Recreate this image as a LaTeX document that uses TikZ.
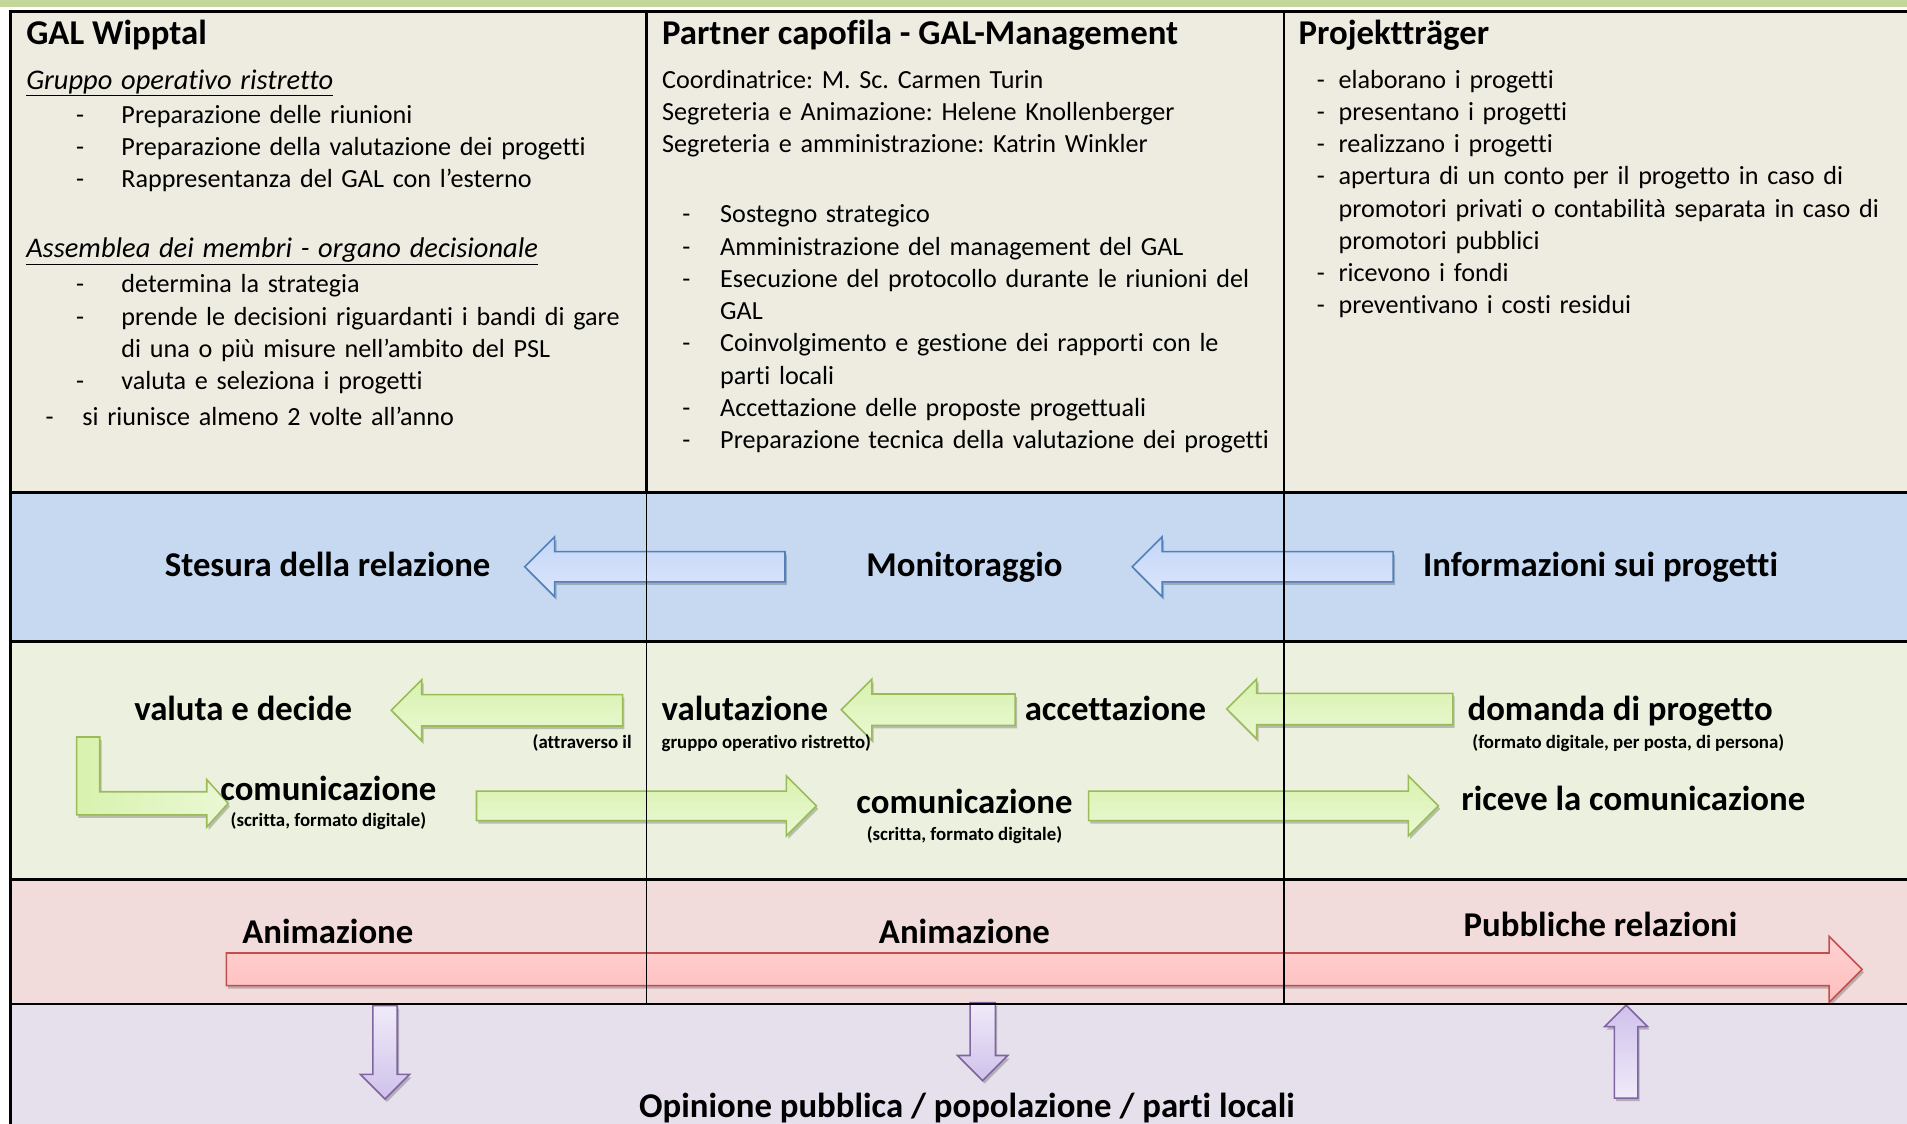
\documentclass[tikz,border=0pt]{standalone}
\usepackage{fontspec}
\setmainfont{Carlito}[Ligatures=NoCommon]
\usetikzlibrary{shapes.arrows,shadows}

\definecolor{stripgreen}{HTML}{C4D79B}
\definecolor{rowbeige}{HTML}{EEECE1}
\definecolor{rowblue}{HTML}{C6D9F1}
\definecolor{rowgreen}{HTML}{EBF1DE}
\definecolor{rowpink}{HTML}{F2DCDB}
\definecolor{rowlilac}{HTML}{E5E0EC}
\definecolor{blueline}{HTML}{4F81BD}
\definecolor{bluetop}{HTML}{C4D6F6}
\definecolor{bluebot}{HTML}{DCE6FE}
\definecolor{greenline}{HTML}{9BBB59}
\definecolor{greentop}{HTML}{D8F2AE}
\definecolor{greenbot}{HTML}{EAF8D4}
\definecolor{redline}{HTML}{C0504D}
\definecolor{redtop}{HTML}{FFD2D2}
\definecolor{redbot}{HTML}{FFBDBD}
\definecolor{lilacline}{HTML}{8064A2}
\definecolor{lilacdark}{HTML}{CFC1EB}
\definecolor{lilaclight}{HTML}{F0EBF9}

%% dash in front of a list line: indent, then box for the dash
\newcommand{\itemdash}[2]{\hspace*{#1}\makebox[#2][l]{-}}
%% underlined italic sub heading, a bit larger than the list
\newcommand{\subhead}[1]{{\fontsize{23.4}{26.5}\selectfont\underline{\textit{#1}}}}

\begin{document}
\begin{tikzpicture}[x=1pt,y=-1pt]
  \tikzset{
    head/.style={font=\fontsize{28.6}{30}\selectfont\bfseries, inner sep=0pt},
    body/.style={font=\fontsize{21.5}{26.5}\selectfont\frenchspacing,
      inner sep=0pt, text width=520pt, align=left},
    lab/.style={font=\fontsize{28.6}{30}\selectfont\bfseries, inner sep=0pt},
    smalllab/.style={font=\fontsize{15.5}{17}\selectfont\bfseries, inner sep=0pt},
    %% length, shaft width, head width (horizontal arrows)
    barrow/.style n args={3}{single arrow, inner xsep=0pt, inner ysep={#2/2},
      minimum width=1pt, minimum height=#1,
      single arrow head extend={(#3-#2)/2}, line width=1.3pt},
    %% the same for arrows turned up or down
    varrow/.style n args={3}{single arrow, inner ysep=0pt, inner xsep={#2/2},
      minimum width=1pt, minimum height=#1,
      single arrow head extend={(#3-#2)/2}, line width=1.3pt},
    softshadow/.style={drop shadow={shadow xshift=1.5pt, shadow yshift=-2.5pt,
      opacity=0.22, fill=black}},
    bluearr/.style={draw=blueline, top color=bluetop, bottom color=bluebot, softshadow},
    greenarr/.style={draw=greenline, top color=greentop, bottom color=greenbot, softshadow},
    redarr/.style={draw=redline, top color=redtop, bottom color=redbot, softshadow},
    lilacdown/.style={draw=lilacline, top color=lilaclight, bottom color=lilacdark, softshadow},
    lilacup/.style={draw=lilacline, top color=lilacdark, bottom color=lilaclight, softshadow},
    grid/.style={line width=2.4pt}
  }
  \useasboundingbox (0,0) rectangle (1568,924);

  %% Background rows
  \fill[stripgreen] (0,0) rectangle (1568,5.5);
  \fill[rowbeige] (8.5,9.6) rectangle (1568,405);
  \fill[rowblue]  (8.5,405) rectangle (1568,527.6);
  \fill[rowgreen] (8.5,527.6) rectangle (1568,723);
  \fill[rowpink]  (8.5,723) rectangle (1568,825.5);
  \fill[rowlilac] (8.5,825.5) rectangle (1568,924);

  %% Block arrows
  \node[barrow={214}{23.5}{48}, bluearr, shape border rotate=180, anchor=tip]
    (arrRel) at (430.5,466) {};
  \node[barrow={214.6}{23.5}{48}, bluearr, shape border rotate=180, anchor=tip]
    (arrMon) at (930,466) {};

  \node[barrow={190.3}{24.5}{49}, greenarr, shape border rotate=180, anchor=tip]
    (arrDec) at (320.7,584) {};
  \node[barrow={143}{24.5}{49}, greenarr, shape border rotate=180, anchor=tip]
    (arrVal) at (690.8,583.5) {};
  \node[barrow={186}{24.5}{48}, greenarr, shape border rotate=180, anchor=tip]
    (arrAcc) at (1007.7,583) {};
  \node[barrow={279.5}{23}{48}, greenarr, anchor=tip]
    (arrComA) at (672.2,662.6) {};
  \node[barrow={287.6}{23}{48}, greenarr, anchor=tip]
    (arrComB) at (1183.6,662.6) {};
  \draw[greenarr, line width=1.3pt, left color=greentop, right color=greenbot]
    (63,606) -- (82,606) -- (82,651) -- (170,651) -- (170,641) -- (187.6,660.5)
    -- (170,680) -- (170,670) -- (63,670) -- cycle;

  \node[barrow={1345}{25.6}{53}, redarr, anchor=tip] (arrAnim) at (1532,797) {};

  \node[varrow={76.8}{18.8}{39}, lilacdown, shape border rotate=270, anchor=tip]
    (arrDownA) at (316.6,904.5) {};
  \node[varrow={64}{19.5}{40}, lilacdown, shape border rotate=270, anchor=tip]
    (arrDownB) at (808,889.4) {};
  \node[varrow={76.5}{18}{34}, lilacup, shape border rotate=90, anchor=tip]
    (arrUp) at (1337,825.5) {};

  %% Table lines
  \draw[grid] (8.5,9.6) -- (1568,9.6);
  \draw[grid] (8.5,405) -- (1568,405);
  \draw[grid] (8.5,527.6) -- (1568,527.6);
  \draw[grid] (8.5,723) -- (1568,723);
  \draw[grid] (8.5,825.5) -- (1568,825.5);
  \draw[grid] (8.5,8.4) -- (8.5,924);
  \foreach \xcol in {531.4, 1055.7} {
    \draw[line width=2pt] (\xcol,9.6) -- (\xcol,405);
    \draw[line width=1.2pt] (\xcol,405) -- (\xcol,825.5);
  }

  %% Column texts
  \node[head, anchor=base west] (galhead) at (21.4,36.2) {GAL Wipptal};
  \node[body, anchor=base west] (galbody) at (21.4,73.5) {%
    \subhead{Gruppo operativo ristretto}\\[1.3pt]
    \itemdash{40.9pt}{37.4pt}Preparazione delle riunioni\\
    \itemdash{40.9pt}{37.4pt}Preparazione della valutazione dei progetti\\
    \itemdash{40.9pt}{37.4pt}Rappresentanza del GAL con l’esterno\\[31pt]
    \subhead{Assemblea dei membri - organo decisionale}\\[2.5pt]
    \itemdash{40.9pt}{37.4pt}determina la strategia\\
    \itemdash{40.9pt}{37.4pt}prende le decisioni riguardanti i bandi di gare\\
    \hspace*{78.3pt}di una o più misure nell’ambito del PSL\\
    \itemdash{40.9pt}{37.4pt}valuta e seleziona i progetti\\[2.8pt]
    \itemdash{16pt}{30.1pt}si riunisce almeno 2 volte all’anno};

  \node[head, anchor=base west] (partnerhead) at (544.2,36.2)
    {Partner capofila - GAL-Management};
  \node[body, anchor=base west] (partnerbody) at (544.2,72.6) {%
    Coordinatrice: M. Sc. Carmen Turin\\
    Segreteria e Animazione: Helene Knollenberger\\
    Segreteria e amministrazione: Katrin Winkler\\[31.2pt]
    \itemdash{16.6pt}{31.2pt}Sostegno strategico\\
    \itemdash{16.6pt}{31.2pt}Amministrazione del management del GAL\\
    \itemdash{16.6pt}{31.2pt}Esecuzione del protocollo durante le riunioni del\\
    \hspace*{47.8pt}GAL\\
    \itemdash{16.6pt}{31.2pt}Coinvolgimento e gestione dei rapporti con le\\
    \hspace*{47.8pt}parti locali\\
    \itemdash{16.6pt}{31.2pt}Accettazione delle proposte progettuali\\
    \itemdash{16.6pt}{31.2pt}Preparazione tecnica della valutazione dei progetti};

  \node[head, anchor=base west] (traegerhead) at (1067.6,36.2) {Projektträger};
  \node[body, anchor=base west] (traegerbody) at (1082.6,72.6) {%
    \itemdash{0pt}{17.8pt}elaborano i progetti\\
    \itemdash{0pt}{17.8pt}presentano i progetti\\
    \itemdash{0pt}{17.8pt}realizzano i progetti\\
    \itemdash{0pt}{17.8pt}apertura di un conto per il progetto in caso di\\
    \hspace*{17.8pt}promotori privati o contabilità separata in caso di\\
    \hspace*{17.8pt}promotori pubblici\\
    \itemdash{0pt}{17.8pt}ricevono i fondi\\
    \itemdash{0pt}{17.8pt}preventivano i costi residui};

  %% Row labels
  \node[lab, anchor=base] (stesura) at (269.4,474.2) {Stesura della relazione};
  \node[lab, anchor=base] (monit) at (793,474.2) {Monitoraggio};
  \node[lab, anchor=base] (info) at (1316,474.2) {Informazioni sui progetti};

  \node[lab, anchor=base] (valdec) at (200,592.6) {valuta e decide};
  \node[smalllab, anchor=base east] (attr) at (519.6,615.3) {(attraverso il};
  \node[lab, anchor=base west] (valut) at (543.8,592.6) {valutazione};
  \node[smalllab, anchor=base west] (gruppo) at (543.8,615.3) {gruppo operativo ristretto)};
  \node[lab, anchor=base west] (accett) at (842.4,592.6) {accettazione};
  \node[lab, anchor=base west] (domanda) at (1206.5,592.6) {domanda di progetto};
  \node[smalllab, anchor=base] (formato) at (1338.8,615.3)
    {(formato digitale, per posta, di persona)};
  \node[lab, anchor=base] (comA) at (270,657.8) {comunicazione};
  \node[smalllab, anchor=base] (scrA) at (270,679.7) {(scritta, formato digitale)};
  \node[lab, anchor=base] (comB) at (793,668.7) {comunicazione};
  \node[smalllab, anchor=base] (scrB) at (793,690.7) {(scritta, formato digitale)};
  \node[lab, anchor=base west] (riceve) at (1201.4,666) {riceve la comunicazione};

  \node[lab, anchor=base] (animA) at (269.6,775.6) {Animazione};
  \node[lab, anchor=base] (animB) at (793,775.6) {Animazione};
  \node[lab, anchor=base] (pubrel) at (1316,770) {Pubbliche relazioni};
  \node[lab, anchor=base] (opinione) at (795,918.5)
    {Opinione pubblica / popolazione / parti locali};

\end{tikzpicture}
\end{document}
